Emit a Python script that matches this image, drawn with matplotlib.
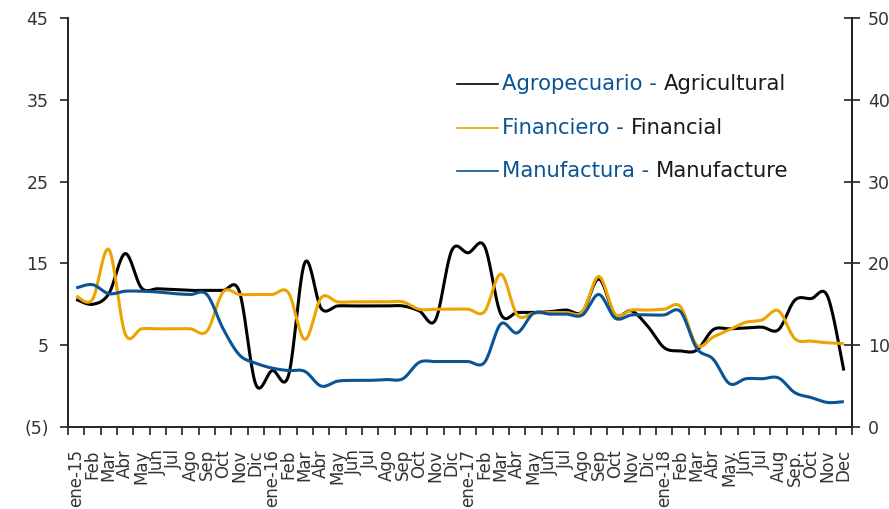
import numpy as np
import matplotlib
matplotlib.use("Agg")
import matplotlib.pyplot as plt
from matplotlib.lines import Line2D

months = ["ene-15", "Feb", "Mar", "Abr", "May", "Jun", "Jul", "Ago", "Sep", "Oct", "Nov", "Dic",
          "ene-16", "Feb", "Mar", "Abr", "May", "Jun", "Jul", "Ago", "Sep", "Oct", "Nov", "Dic",
          "ene-17", "Feb", "Mar", "Abr", "May", "Jun", "Jul", "Ago", "Sep", "Oct", "Nov", "Dic",
          "ene-18", "Feb", "Mar", "Abr", "May.", "Jun", "Jul", "Aug", "Sep.", "Oct", "Nov", "Dec"]

agro = [10.6, 10.0, 11.3, 16.2, 12.0, 11.9, 11.8, 11.7, 11.7, 11.7, 11.5, 0.2,
        1.9, 1.3, 15.1, 9.5, 9.8, 9.8, 9.8, 9.8, 9.8, 9.2, 8.1, 16.6,
        16.3, 17.1, 8.8, 9.0, 9.0, 9.1, 9.3, 9.1, 13.1, 8.7, 9.2, 7.3,
        4.7, 4.3, 4.4, 6.9, 7.0, 7.1, 7.2, 6.9, 10.5, 10.7, 11.0, 1.9]

finan = [11.0, 10.6, 16.7, 6.4, 7.0, 7.0, 7.0, 7.0, 6.7, 11.5, 11.2, 11.2,
         11.2, 11.4, 5.7, 10.8, 10.3, 10.3, 10.3, 10.3, 10.3, 9.4, 9.4, 9.4,
         9.4, 9.1, 13.7, 8.7, 8.9, 9.0, 9.0, 9.1, 13.4, 8.8, 9.3, 9.3,
         9.4, 9.7, 5.0, 6.0, 6.9, 7.8, 8.1, 9.2, 5.8, 5.5, 5.3, 5.2]

manuf = [12.0, 12.4, 11.3, 11.6, 11.6, 11.5, 11.3, 11.2, 11.2, 7.0, 3.8, 2.8,
         2.2, 1.9, 1.8, 0.0, 0.6, 0.7, 0.7, 0.8, 0.9, 2.9, 3.0, 3.0,
         3.0, 2.9, 7.6, 6.5, 8.9, 8.8, 8.8, 8.7, 11.2, 8.3, 8.7, 8.7,
         8.7, 9.1, 4.6, 3.3, 0.3, 0.9, 0.9, 1.0, -0.8, -1.4, -2.0, -1.9]

left_ticks = [-5, 5, 15, 25, 35, 45]
left_labels = ["(5)", "5", "15", "25", "35", "45"]
right_ticks = [0, 10, 20, 30, 40, 50]

BLACK = "#000000"
ORANGE = "#EBA400"
BLUE = "#0B5494"
TXT = "#333333"


def smooth(x, y, n=20):
    """Excel-like smoothed line (Catmull-Rom Bezier)."""
    x = np.asarray(x, float)
    y = np.asarray(y, float)
    P = np.column_stack([x, y])
    Pe = np.vstack([P[0], P, P[-1]])
    out = []
    t = np.linspace(0, 1, n, endpoint=False)[:, None]
    for i in range(len(P) - 1):
        p0, p1, p2, p3 = Pe[i], Pe[i + 1], Pe[i + 2], Pe[i + 3]
        c1 = p1 + (p2 - p0) / 6.0
        c2 = p2 - (p3 - p1) / 6.0
        seg = ((1 - t) ** 3) * p1 + 3 * ((1 - t) ** 2) * t * c1 + 3 * (1 - t) * t ** 2 * c2 + t ** 3 * p2
        out.append(seg)
    out.append(P[-1][None, :])
    out = np.vstack(out)
    return out[:, 0], out[:, 1]


plt.rcParams["font.family"] = ["DejaVu Sans"]

fig = plt.figure(figsize=(8.89, 5.09), dpi=100)
ax = fig.add_axes([68 / 889, 1 - 427 / 509, (852 - 68) / 889, (427 - 18) / 509])

x = np.arange(len(months))
for data, col in [(agro, BLACK), (finan, ORANGE), (manuf, BLUE)]:
    sx, sy = smooth(x, data)
    ax.plot(sx, sy, color=col, lw=2.2, solid_capstyle="butt")

ax.set_xlim(-0.5, len(months) - 0.5)
ax.set_ylim(-5, 45)
ax.set_yticks(left_ticks)
ax.set_yticklabels(left_labels)
ax.set_xticks(np.arange(-0.5, len(months), 1.0))
ax.set_xticklabels([])
ax.set_xticks(x, minor=True)
ax.set_xticklabels(months, minor=True, rotation=90, va="top", ha="center")
ax.tick_params(axis="x", which="major", direction="out", length=6, width=1.2, color="#222222")
ax.tick_params(axis="x", which="minor", length=0, pad=16, labelsize=12, labelcolor=TXT)
ax.tick_params(axis="y", direction="out", length=6, width=1.2, color="#222222", pad=8,
               labelsize=12.5, labelcolor=TXT)

for s in ["top"]:
    ax.spines[s].set_visible(False)
for s in ["left", "bottom", "right"]:
    ax.spines[s].set_linewidth(1.4)
    ax.spines[s].set_color("#222222")

ax2 = ax.twinx()
ax2.set_ylim(0, 50)
ax2.set_yticks(right_ticks)
ax2.tick_params(axis="y", direction="inout", length=11, width=1.2, color="#222222", pad=6,
                labelsize=12.5, labelcolor=TXT)
for s in ["top", "left", "bottom"]:
    ax2.spines[s].set_visible(False)
ax2.spines["right"].set_linewidth(1.4)
ax2.spines["right"].set_color("#222222")

# legend
leg_items = [("Agropecuario - ", "Agricultural", BLACK, 0.8386),
             ("Financiero - ", "Financial", ORANGE, 0.731),
             ("Manufactura - ", "Manufacture", BLUE, 0.626)]
for es, en, col, yy in leg_items:
    ax.add_line(Line2D([0.496, 0.548], [yy, yy], transform=ax.transAxes, color=col, lw=1.2))
    t1 = ax.text(0.5536, yy, es, transform=ax.transAxes, color=BLUE, fontsize=15.2,
                 va="center", ha="left")
    ax.annotate(en, xy=(1, 0), xycoords=t1, xytext=(0, 0), textcoords="offset points",
                va="bottom", ha="left", color="#1a1a1a", fontsize=15.2)

fig.savefig("out.png", dpi=100)
